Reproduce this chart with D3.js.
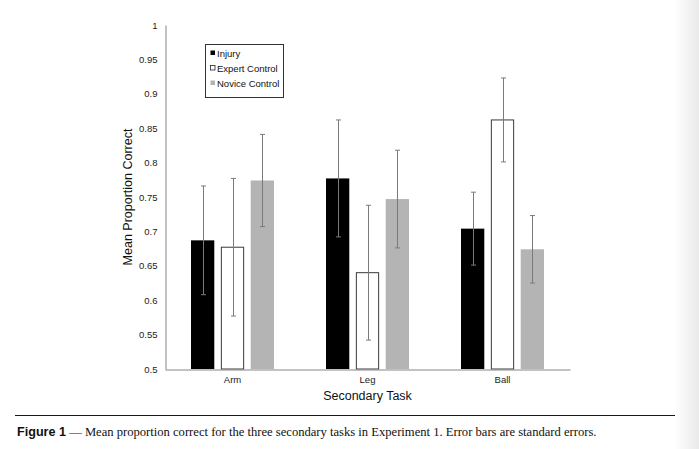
<!DOCTYPE html>
<html><head><meta charset="utf-8">
<script src="https://cdn.jsdelivr.net/npm/d3@7"></script>
<style>body{margin:0;background:#fff;}svg{display:block;}</style>
</head><body>
<script>
const categories = ["Arm", "Leg", "Ball"];
const seriesNames = ["Injury", "Expert Control", "Novice Control"];
const injuryMeans = [0.687, 0.777, 0.704];
const injuryErr = [0.079, 0.085, 0.053];
const expertMeans = [0.677, 0.640, 0.862];
const expertErr = [0.100, 0.098, 0.061];
const noviceMeans = [0.774, 0.747, 0.674];
const noviceErr = [0.067, 0.071, 0.049];
const yTicks = [0.5, 0.55, 0.6, 0.65, 0.7, 0.75, 0.8, 0.85, 0.9, 0.95, 1];
const yTickLabels = ["0.5", "0.55", "0.6", "0.65", "0.7", "0.75", "0.8", "0.85", "0.9", "0.95", "1"];

const W = 699, H = 449;
const svg = d3.select("body").append("svg").attr("width", W).attr("height", H);

// right edge shading
const defs = svg.append("defs");
const g = defs.append("linearGradient").attr("id", "edge").attr("x1", "0").attr("x2", "1");
g.append("stop").attr("offset", "0").attr("stop-color", "#ffffff");
g.append("stop").attr("offset", "1").attr("stop-color", "#e9e9e9");
svg.append("rect").attr("x", 674).attr("y", 0).attr("width", 25).attr("height", H).attr("fill", "url(#edge)");

const series = [
  {name: seriesNames[0], means: injuryMeans, err: injuryErr, fill: "#000000", stroke: "none"},
  {name: seriesNames[1], means: expertMeans, err: expertErr, fill: "#ffffff", stroke: "#3a3a3a"},
  {name: seriesNames[2], means: noviceMeans, err: noviceErr, fill: "#b4b4b4", stroke: "none"}
];

const x0 = d3.scaleBand().domain(categories).range([165, 570]).paddingInner(0).paddingOuter(0);
const x1 = d3.scaleBand().domain(seriesNames).range([0, 83]).paddingInner(0.22).paddingOuter(0);
const y = d3.scaleLinear().domain([0.5, 1]).range([369, 25]);

const barW = x1.bandwidth();
const groupOff = (x0.bandwidth() - 83) / 2;

const plot = svg.append("g");
series.forEach(s => {
  const gs = plot.append("g");
  categories.forEach((c, i) => {
    const bx = x0(c) + groupOff + x1(s.name);
    const yv = y(s.means[i]);
    gs.append("rect")
      .attr("x", s.stroke === "none" ? bx : bx + 0.5)
      .attr("y", yv)
      .attr("width", s.stroke === "none" ? barW : barW - 1)
      .attr("height", y(0.5) - yv)
      .attr("fill", s.fill)
      .attr("stroke", s.stroke)
      .attr("stroke-width", 1);
  });
});

// error bars
series.forEach(s => {
  categories.forEach((c, i) => {
    const cx = Math.round(x0(c) + groupOff + x1(s.name) + barW / 2) + 0.5;
    const top = y(s.means[i] + s.err[i]);
    const bot = y(s.means[i] - s.err[i]);
    const eg = plot.append("g").attr("stroke", "#7a7a7a").attr("stroke-width", 1);
    eg.append("line").attr("x1", cx).attr("x2", cx).attr("y1", top).attr("y2", bot);
    eg.append("line").attr("x1", cx - 2.5).attr("x2", cx + 2.5).attr("y1", top).attr("y2", top);
    eg.append("line").attr("x1", cx - 2.5).attr("x2", cx + 2.5).attr("y1", bot).attr("y2", bot);
  });
});

// axes
const yAxis = d3.axisLeft(y).tickValues(yTicks).tickFormat((d, i) => yTickLabels[i]).tickSize(0).tickPadding(8);
const ya = svg.append("g").attr("transform", "translate(165.5,0)").call(yAxis);
ya.select(".domain").attr("stroke", "#858585");
ya.selectAll("text").attr("font-family", "Liberation Sans, Arial, sans-serif").attr("font-size", 9.5).attr("fill", "#222");

const xAxis = d3.axisBottom(x0).tickSize(0).tickPadding(7);
const xa = svg.append("g").attr("transform", "translate(0,369.5)").call(xAxis);
xa.select(".domain").attr("stroke", "#858585");
xa.selectAll("text").attr("font-family", "Liberation Sans, Arial, sans-serif").attr("font-size", 9.5).attr("fill", "#222");

svg.append("text").attr("transform", "translate(132,197) rotate(-90)")
  .attr("text-anchor", "middle").attr("font-family", "Liberation Sans, Arial, sans-serif")
  .attr("font-size", 12.5).attr("fill", "#111").text("Mean Proportion Correct");
svg.append("text").attr("x", 367.5).attr("y", 400)
  .attr("text-anchor", "middle").attr("font-family", "Liberation Sans, Arial, sans-serif")
  .attr("font-size", 12.5).attr("fill", "#111").text("Secondary Task");

// legend
const lg = svg.append("g");
lg.append("rect").attr("x", 205.5).attr("y", 44.5).attr("width", 78).attr("height", 53)
  .attr("fill", "#fff").attr("stroke", "#333").attr("stroke-width", 1);
series.forEach((s, i) => {
  const ly = 53 + i * 15;
  lg.append("rect").attr("x", 210.5).attr("y", ly - 2.5).attr("width", 4.5).attr("height", 4.5)
    .attr("fill", s.fill).attr("stroke", i === 1 ? "#222" : "none").attr("stroke-width", 0.8);
  lg.append("text").attr("x", 217).attr("y", ly + 3.5)
    .attr("font-family", "Liberation Sans, Arial, sans-serif").attr("font-size", 9.5).attr("fill", "#111")
    .text(s.name);
});

// caption
svg.append("line").attr("x1", 15).attr("x2", 675).attr("y1", 415.5).attr("y2", 415.5)
  .attr("stroke", "#1a1a1a").attr("stroke-width", 1.2);
const cap = svg.append("text").attr("x", 17).attr("y", 436).attr("font-size", 12.6).attr("fill", "#111");
cap.append("tspan").attr("font-family", "Liberation Sans, Arial, sans-serif").attr("font-weight", "bold").text("Figure 1");
cap.append("tspan").attr("font-family", "Liberation Serif, Times New Roman, serif")
  .text(" \u2014 Mean proportion correct for the three secondary tasks in Experiment 1. Error bars are standard errors.");
</script>
</body></html>
